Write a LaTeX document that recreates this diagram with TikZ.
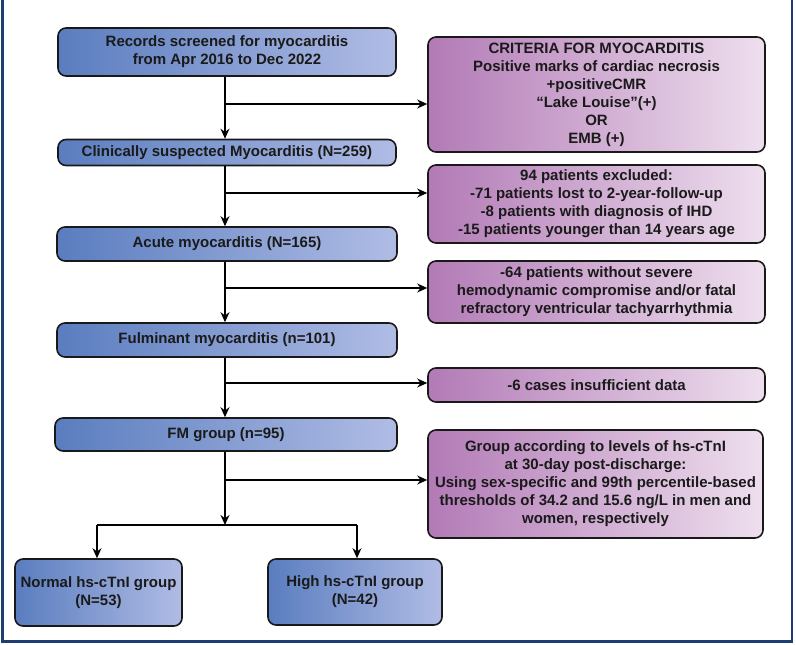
\documentclass[tikz,border=0pt]{standalone}
\usepackage{fontspec}
\setmainfont{Liberation Sans}
\usetikzlibrary{arrows.meta}
\definecolor{blueL}{HTML}{5A7DBF}
\definecolor{blueR}{HTML}{B0BCE5}
\definecolor{purL}{HTML}{B27AB6}
\definecolor{purR}{HTML}{EEDFEE}
\definecolor{frameblue}{HTML}{1F3D73}
\definecolor{txt}{HTML}{1A1A1A}
\tikzset{
  box/.style={draw=black!90, line width=1.6pt, rounded corners=8pt, align=center,
    inner sep=0pt, text=txt, font=\fontsize{15}{18}\selectfont\bfseries},
  bluebox/.style={box, left color=blueL, right color=blueR},
  purbox/.style={box, left color=purL, right color=purR},
  arr/.style={line width=1.5pt, draw=black, -{Stealth[length=10pt,width=9pt]}},
  ln/.style={line width=1.5pt, draw=black},
}
\begin{document}
\begin{tikzpicture}[x=1pt,y=-1pt]
\useasboundingbox (0,0) rectangle (796,645);
% frame
\draw[frameblue, line width=2.5pt] (2.5,0) -- (2.5,641.5) -- (792,641.5) -- (792,0);

% left column
\node[bluebox, minimum width=338pt, minimum height=48pt] (rec) at (227,52)
  {Records screened for myocarditis\\from Apr 2016 to Dec 2022};
\node[bluebox, minimum width=338pt, minimum height=26pt] (clin) at (227,152.5)
  {Clinically suspected Myocarditis (N=259)};
\node[bluebox, minimum width=340pt, minimum height=34pt] (acute) at (227,244)
  {Acute myocarditis (N=165)};
\node[bluebox, minimum width=340pt, minimum height=34pt] (ful) at (227,340)
  {Fulminant myocarditis (n=101)};
\node[bluebox, minimum width=342pt, minimum height=33pt] (fm) at (226,434.5)
  {FM group (n=95)};
\node[bluebox, minimum width=167pt, minimum height=67pt] (norm) at (98.5,592.5)
  {Normal hs-cTnI group\\(N=53)};
\node[bluebox, minimum width=174pt, minimum height=66pt] (high) at (355,592)
  {High hs-cTnI group\\(N=42)};

% right column
\node[purbox, minimum width=337pt, minimum height=115pt] (crit) at (596.5,94.5)
  {CRITERIA FOR MYOCARDITIS\\Positive marks of cardiac necrosis\\+positiveCMR\\“Lake Louise”(+)\\OR\\EMB (+)};
\node[purbox, minimum width=337pt, minimum height=78pt] (excl) at (596.5,204)
  {94 patients excluded:\\-71 patients lost to 2-year-follow-up\\-8 patients with diagnosis of IHD\\-15 patients younger than 14 years age};
\node[purbox, minimum width=337pt, minimum height=62pt] (sev) at (596.5,292)
  {-64 patients without severe\\hemodynamic compromise and/or fatal\\refractory ventricular tachyarrhythmia};
\node[purbox, minimum width=337pt, minimum height=34pt] (ins) at (596.5,385)
  {-6 cases insufficient data};
\node[purbox, minimum width=335pt, minimum height=108pt] (grp) at (595.5,484)
  {Group according to levels of hs-cTnI\\at 30-day post-discharge:\\Using sex-specific and 99th percentile-based\\thresholds of 34.2 and 15.6 ng/L in men and\\women, respectively};

% trunk
\coordinate (tx) at (225,0);
\coordinate (b1) at (225,104);
\coordinate (b2) at (225,193);
\coordinate (b3) at (225,288);
\coordinate (b4) at (225,383);
\coordinate (b5) at (225,480);
\coordinate (sp) at (225,525);
\coordinate (spL) at (97,525);
\coordinate (spR) at (357,525);

\draw[arr] (rec.south -| tx) -- (clin.north -| tx);
\draw[arr] (clin.south -| tx) -- (acute.north -| tx);
\draw[arr] (acute.south -| tx) -- (ful.north -| tx);
\draw[arr] (ful.south -| tx) -- (fm.north -| tx);
\draw[arr] (fm.south -| tx) -- (sp);

\draw[arr] (b1) -- (b1 -| crit.west);
\draw[arr] (b2) -- (b2 -| excl.west);
\draw[arr] (b3) -- (b3 -| sev.west);
\draw[arr] (b4) -- (b4 -| ins.west);
\draw[arr] (b5) -- (b5 -| grp.west);

\draw[ln] (spL) -- (spR);
\draw[arr] (spL) -- (spL |- norm.north);
\draw[arr] (spR) -- (spR |- high.north);
\end{tikzpicture}
\end{document}
